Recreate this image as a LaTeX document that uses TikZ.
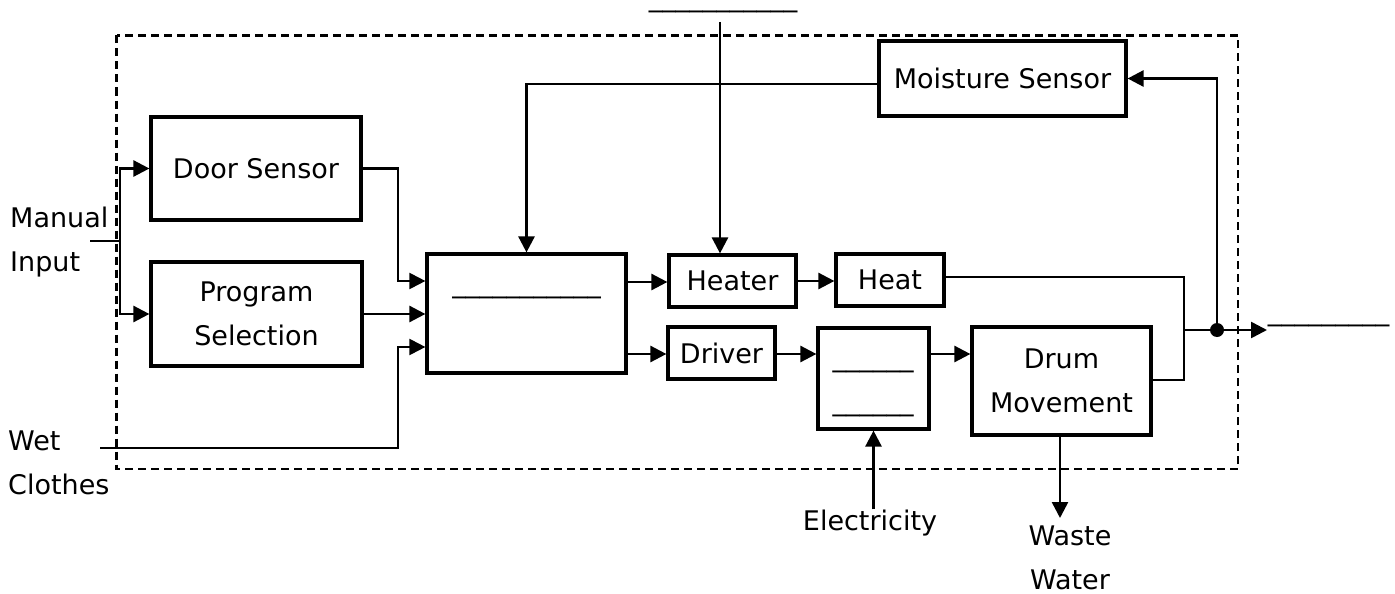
\documentclass[tikz,border=0pt]{standalone}
\usepackage{fontspec}
\setmainfont{DejaVu Sans}
\usetikzlibrary{arrows.meta,calc}
\begin{document}
\begin{tikzpicture}[x=1pt,y=-1pt,
  txt/.style={inner sep=0pt,font=\fontsize{27}{44}\selectfont},
  blk/.style={txt,draw,line width=3.2pt,align=center},
  lbl/.style={txt,align=left},
  conn/.style={line width=2.6pt,-{Triangle[length=16pt,width=16pt]}},
  wire/.style={line width=2.1pt},
  bound/.style={line width=2.8pt,dash pattern=on 8pt off 5pt}
]
\useasboundingbox (0,0) rectangle (1395,594);
% system boundary
\draw[bound] (116.5,35.5) rectangle (1238,469);

% blocks
\node[blk,minimum width=210pt,minimum height=103pt] (door) at (256,168.5) {Door Sensor};
\node[blk,minimum width=211pt,minimum height=104pt] (prog) at (256.5,314) {Program\\Selection};
\node[blk,minimum width=199pt,minimum height=119pt] (ctrl) at (526.5,313.5) {};
\node[txt,anchor=base] (ctrlt) at (526.5,292.3) {\_\_\_\_\_\_\_\_\_\_\_};
\node[blk,minimum width=127pt,minimum height=52pt] (heater) at (732.5,281) {Heater};
\node[blk,minimum width=108pt,minimum height=52pt] (heat) at (890,280) {Heat};
\node[blk,minimum width=107pt,minimum height=52pt] (driver) at (721.5,353) {Driver};
\node[blk,minimum width=111pt,minimum height=101pt] (motor) at (873.5,378.5) {};
\node[txt,anchor=base] (motort1) at (873,366.3) {\_\_\_\_\_\_};
\node[txt,anchor=base] (motort2) at (873,410.3) {\_\_\_\_\_\_};
\node[blk,minimum width=179pt,minimum height=108pt] (drum) at (1061.5,381) {Drum\\Movement};
\node[blk,minimum width=247pt,minimum height=75pt] (moist) at (1002.5,78.5) {Moisture Sensor};

% outside labels
\node[lbl,anchor=north west] (man) at (10,206.5) {Manual\\Input};
\node[lbl,anchor=north west] (wet) at (8,430.3) {Wet\\Clothes};
\node[txt,anchor=base] (elec) at (870,530) {Electricity};
\node[txt,align=center,anchor=north] (waste) at (1070,525.3) {Waste\\Water};
\node[txt,anchor=base] (topt) at (723,6.8) {\_\_\_\_\_\_\_\_\_\_\_};
\node[txt,anchor=base] (outt) at (1328.5,320.3) {\_\_\_\_\_\_\_\_\_};

% junction coordinates
\coordinate (manin) at (90,241);
\coordinate (split) at (120,241);
\coordinate (wetin) at (100,448);
\coordinate (topin) at (720,22);
\coordinate (mj) at (1184,330);
\coordinate (dot) at (1217,330);
\coordinate (outtip) at (1267,330);

% connectors
\draw[wire] (manin) -- (split);
\draw[conn] (split) |- (door.west);
\draw[conn] (split) |- (prog.west);
\draw[conn,line width=2.1pt] (door.east) -| (398,281) -- (ctrl.west |- 0,281);
\draw[conn] (prog.east) -- (ctrl.west |- prog.east);
\draw[conn,line width=2.1pt] (wetin) -| (398,347) -- (ctrl.west |- 0,347);
\draw[conn] ($(moist.west)+(0,5.5)$) -| (ctrl.north);
\draw[conn] (topin) -- (heater.north -| topin);
\draw[conn] (ctrl.east |- 0,282) -- (heater.west |- 0,282);
\draw[conn] (heater.east) -- (heat.west |- heater.east);
\draw[conn] (ctrl.east |- 0,354) -- (driver.west |- 0,354);
\draw[conn] (driver.east |- 0,354) -- (motor.west |- 0,354);
\draw[conn] (motor.east |- 0,354) -- (drum.west |- 0,354);
\draw[conn] (motor.south |- elec.north) -- (motor.south);
\draw[conn] (drum.south -| 1060,0) -- (1060,518);
\draw[wire] (heat.east |- 0,277) -| (mj);
\draw[wire] (drum.east |- 0,380) -| (mj);
\draw[conn] (mj) -- (outtip);
\fill (dot) circle (7pt);
\draw[conn] (dot) |- (moist.east);
\end{tikzpicture}
\end{document}
